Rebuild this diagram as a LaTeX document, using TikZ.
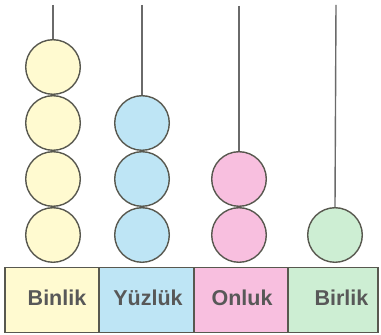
\documentclass[tikz,border=0pt]{standalone}
\usepackage{fontspec}
\setmainfont{Liberation Sans}
\definecolor{sari}{HTML}{FFFAD0}
\definecolor{mavi}{HTML}{BEE5F5}
\definecolor{pembe}{HTML}{F8BFDF}
\definecolor{yesil}{HTML}{CDEED3}
\definecolor{kenar}{HTML}{58584F}
\definecolor{cubuk}{HTML}{6A6A6A}
\definecolor{yazi}{HTML}{585858}
\begin{document}
\begin{tikzpicture}[x=1pt,y=1pt,
    bead/.style={circle,draw=kenar,line width=1.4pt,minimum size=54.6pt,inner sep=0pt},
    basebox/.style={rectangle,draw=kenar,line width=1.4pt,minimum height=65pt,inner sep=0pt},
    lbl/.style={font=\fontsize{21.5}{24}\selectfont\bfseries,text=yazi,inner sep=0pt}]
  \useasboundingbox (0,0) rectangle (381,335);
  \fill[white] (0,0) rectangle (381,335);
  % rod tops
  \coordinate (t1) at (53,330);
  \coordinate (t2) at (142,330);
  \coordinate (t3) at (239,329);
  \coordinate (t4) at (336,330);
  % beads
  \draw
    (53,100) node[bead,fill=sari] (b11){}
    (53,156) node[bead,fill=sari] (b12){}
    (53,212) node[bead,fill=sari] (b13){}
    (53,268) node[bead,fill=sari] (b14){}
    (142,100) node[bead,fill=mavi] (b21){}
    (142,156) node[bead,fill=mavi] (b22){}
    (142,212) node[bead,fill=mavi] (b23){}
    (239,100) node[bead,fill=pembe] (b31){}
    (239,156) node[bead,fill=pembe] (b32){}
    (335,100) node[bead,fill=yesil] (b41){};
  \begin{scope}[draw=cubuk,line width=1.4pt]
    \draw (t1) to (b14.north);
    \draw (t2) to (b23.north);
    \draw (t3) to (b32.north);
    \draw (t4) to (b41.north);
  \end{scope}
  % base
  \draw
    (52,35) node[basebox,fill=sari,minimum width=94pt] (binlik){}
    (146.5,35) node[basebox,fill=mavi,minimum width=95pt] (yuzluk){}
    (241,35) node[basebox,fill=pembe,minimum width=94pt] (onluk){}
    (333,35) node[basebox,fill=yesil,minimum width=90pt] (birlik){};
  \node[lbl] (l1) at (57,37) {Binlik};
  \node[lbl] (l2) at (148,37) {Yüzlük};
  \node[lbl] (l3) at (242,37) {Onluk};
  \node[lbl] (l4) at (341.5,37) {Birlik};
\end{tikzpicture}
\end{document}
